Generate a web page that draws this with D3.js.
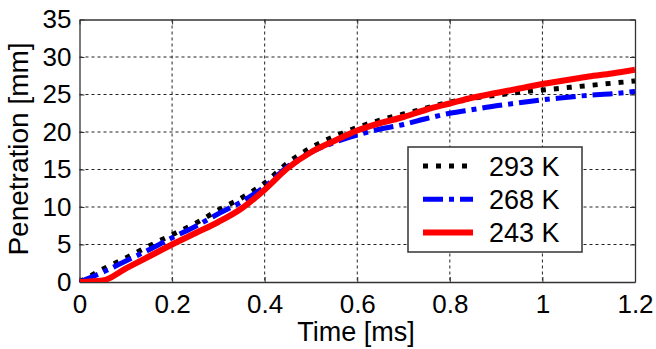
<!DOCTYPE html>
<html>
<head>
<meta charset="utf-8">
<script src="https://cdn.jsdelivr.net/npm/d3@7"></script>
<style>
html,body{margin:0;padding:0;background:#fff;}
svg{display:block;font-family:"Liberation Sans",Arial,sans-serif;}
</style>
</head>
<body>
<svg id="chart" width="656" height="349"></svg>
<script>
const times = [0,0.05,0.1,0.15,0.2,0.25,0.3,0.35,0.4,0.45,0.5,0.55,0.6,0.65,0.7,0.75,0.8,0.85,0.9,0.95,1.0,1.05,1.1,1.15,1.2];
const k293 = [0,1.7,3.2,4.8,6.3,7.8,9.6,11.2,13.2,15.9,17.9,19.4,20.6,21.6,22.4,23.2,24.0,24.5,24.9,25.3,25.6,25.9,26.2,26.5,26.8];
const k268 = [0,1.3,2.8,4.3,5.9,7.4,9.1,10.7,12.7,15.4,17.3,18.6,19.6,20.4,21.0,21.8,22.5,23.0,23.5,23.9,24.3,24.6,24.9,25.1,25.4];
const k243 = [0,0.2,1.8,3.4,5.0,6.5,8.0,9.8,12.3,15.2,17.3,18.8,20.2,21.2,22.0,23.0,23.8,24.6,25.2,25.8,26.4,26.9,27.4,27.8,28.3];
const seriesNames = ["293 K","268 K","243 K"];
const xTicks = [0,0.2,0.4,0.6,0.8,1,1.2];
const yTicks = [0,5,10,15,20,25,30,35];

const series = [
  {name: seriesNames[0], values: k293, color: "#000000", width: 5, dash: "5,8"},
  {name: seriesNames[1], values: k268, color: "#0000ff", width: 5, dash: "20,6,5,6"},
  {name: seriesNames[2], values: k243, color: "#ff0000", width: 6, dash: null}
];

const svg = d3.select("#chart");
const L = 79.5, R = 635, T = 19.5, B = 282;
const x = d3.scaleLinear().domain([0,1.2]).range([L,R]);
const y = d3.scaleLinear().domain([0,35]).range([B,T]);

// grid
const grid = svg.append("g");
grid.selectAll("line.vg").data(xTicks.slice(1,-1)).enter().append("line")
  .attr("x1", d=>x(d)).attr("x2", d=>x(d)).attr("y1", T).attr("y2", B)
  .attr("stroke","#222").attr("stroke-width",1).attr("stroke-dasharray","3,3");
grid.selectAll("line.hg").data(yTicks.slice(1,-1)).enter().append("line")
  .attr("y1", d=>y(d)).attr("y2", d=>y(d)).attr("x1", L).attr("x2", R)
  .attr("stroke","#222").attr("stroke-width",1).attr("stroke-dasharray","3,3");

// axes
const fs = "26px";
const xAxis = d3.axisBottom(x).tickValues(xTicks).tickFormat(d3.format("~g")).tickSizeInner(-5).tickSizeOuter(0).tickPadding(13);
const gx = svg.append("g").attr("transform",`translate(0,${B})`).call(xAxis);
const yAxis = d3.axisLeft(y).tickValues(yTicks).tickFormat(d3.format("d")).tickSizeInner(-5).tickSizeOuter(0).tickPadding(8);
const gy = svg.append("g").attr("transform",`translate(${L},0)`).call(yAxis);
const gxt = svg.append("g").attr("transform",`translate(0,${T})`).call(d3.axisTop(x).tickValues(xTicks).tickFormat("").tickSizeInner(-5).tickSizeOuter(0));
const gyr = svg.append("g").attr("transform",`translate(${R},0)`).call(d3.axisRight(y).tickValues(yTicks).tickFormat("").tickSizeInner(-5).tickSizeOuter(0));
[gx,gy,gxt,gyr].forEach(g=>{
  g.selectAll("path.domain").attr("stroke","#333").attr("stroke-width",1.3);
  g.selectAll(".tick line").attr("stroke","#333");
  g.selectAll("text").attr("font-size",fs).attr("fill","#000").attr("font-family","'Liberation Sans',Arial,sans-serif");
});

// lines
const clip = svg.append("clipPath").attr("id","clip").append("rect")
  .attr("x",L).attr("y",T).attr("width",R-L).attr("height",B-T);
const lineGen = d3.line().x((d,i)=>x(times[i])).y(d=>y(d)).curve(d3.curveMonotoneX);
const lg = svg.append("g").attr("clip-path","url(#clip)");
series.forEach(s=>{
  lg.append("path").datum(s.values).attr("d",lineGen)
    .attr("fill","none").attr("stroke",s.color).attr("stroke-width",s.width)
    .attr("stroke-dasharray",s.dash).attr("stroke-linecap","butt").attr("stroke-linejoin","round");
});

// axis labels
svg.append("text").attr("x",356).attr("y",341).attr("text-anchor","middle")
  .attr("font-size","27px").text("Time [ms]");
svg.append("text").attr("transform",`translate(28,149) rotate(-90)`).attr("text-anchor","middle")
  .attr("font-size","28px").text("Penetration [mm]");

// legend
const lgd = svg.append("g");
lgd.append("rect").attr("x",408).attr("y",147).attr("width",174).attr("height",105)
  .attr("fill","#fff").attr("stroke","#333").attr("stroke-width",1.5);
const rowY = d3.scalePoint().domain(seriesNames).range([166,232.5]);
series.forEach(s=>{
  const yy = rowY(s.name);
  lgd.append("line").attr("x1",423).attr("x2",473).attr("y1",yy).attr("y2",yy)
    .attr("stroke",s.color).attr("stroke-width",s.width).attr("stroke-dasharray",s.dash);
  lgd.append("text").attr("x",489).attr("y",yy).attr("dy","0.36em")
    .attr("font-size","27px").text(s.name);
});
</script>
</body>
</html>
